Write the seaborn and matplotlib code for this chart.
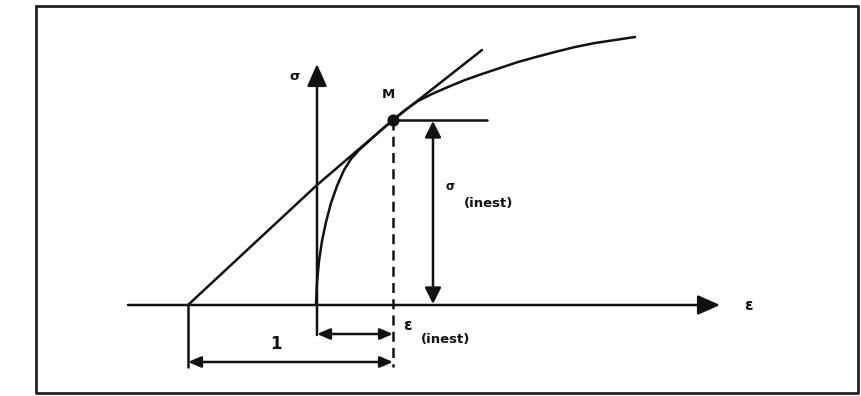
import matplotlib
matplotlib.use("Agg")
import matplotlib.pyplot as plt
import seaborn as sns
import pandas as pd

sns.set_theme(style="white")
plt.rcParams['font.family'] = ['DejaVu Sans']

# --- data (drawing coordinates of the schematic) ---
curve_x = [316, 317, 319, 322, 326, 331, 337, 344, 351, 359, 368, 380, 393, 405, 418, 432, 448,
           465, 482, 500, 518, 536, 555, 575, 595, 615, 635]
curve_y = [305, 282, 261, 241, 222, 203, 186, 170, 159, 150, 142, 131, 120, 110, 101, 94, 87,
           80, 74, 68, 62, 57, 52, 47, 43, 40, 37]
tangent_x = [188, 317, 393, 482]
tangent_y = [305, 185, 120, 50]
point_M = (393, 120)
eps0_x = 188      # start of tangent on strain axis
origin_x = 317    # sigma axis position
axis_y = 305      # strain axis
labels = {"sigma": "σ", "eps": "ε", "M": "M", "one": "1", "inest": "(inest)"}

fig = plt.figure(figsize=(8.61, 3.96), dpi=100)
ax = fig.add_axes([0, 0, 1, 1])
ax.set_xlim(0, 861)
ax.set_ylim(396, 0)
ax.axis("off")
fig.patch.set_facecolor("white")

lw = 1.8
k = "#111111"

# frame
ax.plot([36, 858, 858, 36, 36], [6, 6, 393, 393, 6], color="#222222", lw=2.0)

# curve and tangent line
sns.lineplot(data=pd.DataFrame({"x": curve_x, "y": curve_y}), x="x", y="y",
             sort=False, estimator=None, color=k, lw=lw, ax=ax,
             solid_joinstyle="round", solid_capstyle="round")
sns.lineplot(data=pd.DataFrame({"x": tangent_x, "y": tangent_y}), x="x", y="y",
             sort=False, estimator=None, color=k, lw=lw, ax=ax,
             solid_joinstyle="round")
ax.set_xlabel("")
ax.set_ylabel("")

big = dict(arrowstyle="-|>,head_length=0.9,head_width=0.4", color=k, lw=lw,
           shrinkA=0, shrinkB=0, mutation_scale=15)
# strain axis
ax.annotate("", xy=(720, axis_y), xytext=(128, axis_y), arrowprops=big)
# sigma axis
ax.annotate("", xy=(origin_x, 64), xytext=(origin_x, 335), arrowprops=big)

# horizontal line at M
ax.plot([point_M[0], 487], [point_M[1], point_M[1]], color=k, lw=lw)
# dashed vertical from M
ax.plot([point_M[0], point_M[0]], [point_M[1], 367], color=k, lw=lw,
        dashes=(4, 2.5))
# point M
ax.scatter([point_M[0]], [point_M[1]], s=60, color=k, zorder=5)

# left dimension tick
ax.plot([eps0_x, eps0_x], [axis_y, 367], color=k, lw=lw)

# sigma(inest) double arrow
mid = dict(arrowstyle="<|-|>,head_length=0.7,head_width=0.35", color=k, lw=lw,
           shrinkA=0, shrinkB=0, mutation_scale=14)
ax.annotate("", xy=(433, 121), xytext=(433, axis_y - 1), arrowprops=mid)

# dimension arrows
small = dict(arrowstyle="<|-|>,head_length=0.7,head_width=0.3", color=k, lw=lw,
             shrinkA=0, shrinkB=0, mutation_scale=11)
ax.annotate("", xy=(origin_x, 334), xytext=(point_M[0], 334), arrowprops=small)
ax.annotate("", xy=(eps0_x, 362), xytext=(point_M[0], 362), arrowprops=small)

fs = 9.5
tk = dict(color=k, fontweight="bold", ha="center", va="center")
ax.text(295, 77, labels["sigma"], fontsize=fs, **tk)
ax.text(388, 95, labels["M"], fontsize=fs, **tk)
ax.text(748, 306, labels["eps"], fontsize=fs + 1.5, **tk)
ax.text(450, 186, labels["sigma"], fontsize=fs - 1, **tk)
ax.text(489, 203, labels["inest"], fontsize=fs, **tk)
ax.text(407, 325, labels["eps"], fontsize=fs + 1.5, **tk)
ax.text(446, 339, labels["inest"], fontsize=fs, **tk)
ax.text(276, 344, labels["one"], fontsize=fs + 2.5, **tk)

fig.savefig("out.png", dpi=100, facecolor="white")
